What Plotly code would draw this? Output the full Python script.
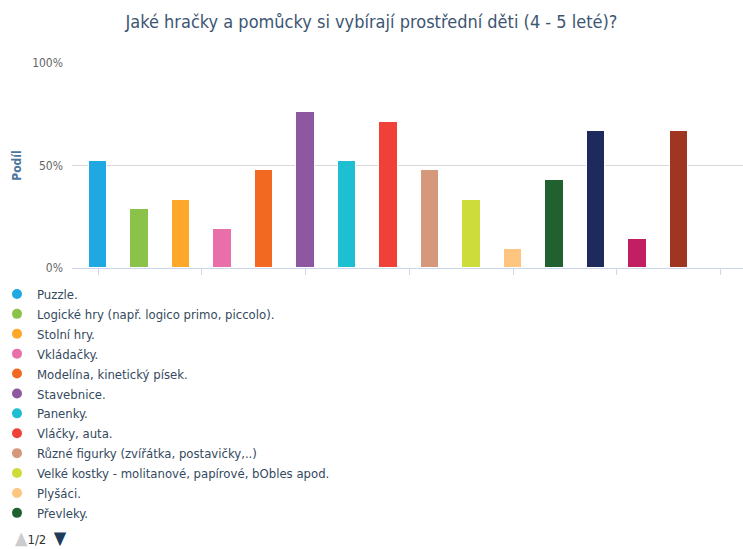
import plotly.graph_objects as go

categories = [
    "Puzzle.",
    "Logické hry (např. logico primo, piccolo).",
    "Stolní hry.",
    "Vkládačky.",
    "Modelína, kinetický písek.",
    "Stavebnice.",
    "Panenky.",
    "Vláčky, auta.",
    "Různé figurky (zvířátka, postavičky,..)",
    "Velké kostky - molitanové, papírové, bObles apod.",
    "Plyšáci.",
    "Převleky.",
    "Knížky.",
    "Hudební nástroje.",
    "Jiné.",
]
values = [52.4, 28.6, 33.3, 19.0, 47.6, 76.2, 52.4, 71.4, 47.6, 33.3, 9.5, 42.9, 66.7, 14.3, 66.7]
colors = ["#1fa8e1", "#8bc34a", "#fda829", "#e96fab", "#f26a21", "#8e58a0", "#1dbfd0",
          "#ef4137", "#d6987a", "#cddc3b", "#fdc57f", "#216130", "#1e2a5c", "#c21f63", "#9e3621"]
legend_page1 = 12
y_ticks = [0, 50, 100]
y_tick_labels = ["0%", "50%", "100%"]

FONT = "DejaVu Sans Condensed, DejaVu Sans, sans-serif"
fig = go.Figure()
for i, (name, v, c) in enumerate(zip(categories, values, colors)):
    fig.add_trace(go.Bar(
        x=[i], y=[v], name=name, width=0.45,
        marker=dict(color=c, line=dict(color="white", width=1)),
        showlegend=False, legendgroup=f"g{i}",
        hovertemplate=name + "<br>%{y:.1f}%<extra></extra>",
    ))
    fig.add_trace(go.Scatter(
        x=[None], y=[None], mode="markers", name=name,
        marker=dict(color=c, size=10, symbol="circle"),
        legendgroup=f"g{i}", showlegend=i < legend_page1,
    ))

fig.update_layout(
    width=743, height=549,
    margin=dict(l=72, r=0, t=63, b=281, autoexpand=False),
    paper_bgcolor="white", plot_bgcolor="white",
    font=dict(family=FONT, color="#34495e", size=12),
    title=dict(text="Jaké hračky a pomůcky si vybírají prostřední děti (4 - 5 leté)?",
               x=0.5, xanchor="center", y=1 - 22 / 549, yanchor="middle",
               font=dict(size=18, color="#3d5672", family=FONT)),
    bargap=0,
    showlegend=True,
    legend=dict(x=-75 / 671, xref="paper", xanchor="left",
                y=-(279 - 268) / 205, yref="paper", yanchor="top",
                traceorder="grouped", tracegroupgap=0,
                font=dict(size=13, color="#34495e", family=FONT),
                bgcolor="rgba(0,0,0,0)", itemclick=False),
    xaxis=dict(range=[-0.627, 15.54], showgrid=False, zeroline=False,
               tickvals=[0, 2.5, 5, 7.5, 10, 12.5, 15], showticklabels=False,
               ticks="outside", ticklen=6, tickcolor="#ccd6eb",
               showline=True, linecolor="#ccd6eb", linewidth=1, fixedrange=True),
    yaxis=dict(range=[0, 100], tickvals=y_ticks, ticktext=y_tick_labels,
               showgrid=True, gridcolor="#d8d8d8", gridwidth=1, zeroline=False,
               tickfont=dict(size=12, color="#666666", family=FONT),
               ticklabelstandoff=8,
               title=dict(text="<b>Podíl</b>", font=dict(size=12, color="#4d759e", family=FONT),
                          standoff=7),
               fixedrange=True),
)

fig.add_annotation(
    xref="paper", yref="paper",
    x=-59 / 671, y=-(537 - 268) / 205, xanchor="left", yanchor="middle", showarrow=False,
    text='<span style="color:#cccccc;font-size:18px">▲</span><span style="color:#333333;font-size:13px">1/2  </span><span style="color:#1f3b5a;font-size:18px">▼</span>',
    font=dict(family=FONT),
)

fig.write_html("out.html")
